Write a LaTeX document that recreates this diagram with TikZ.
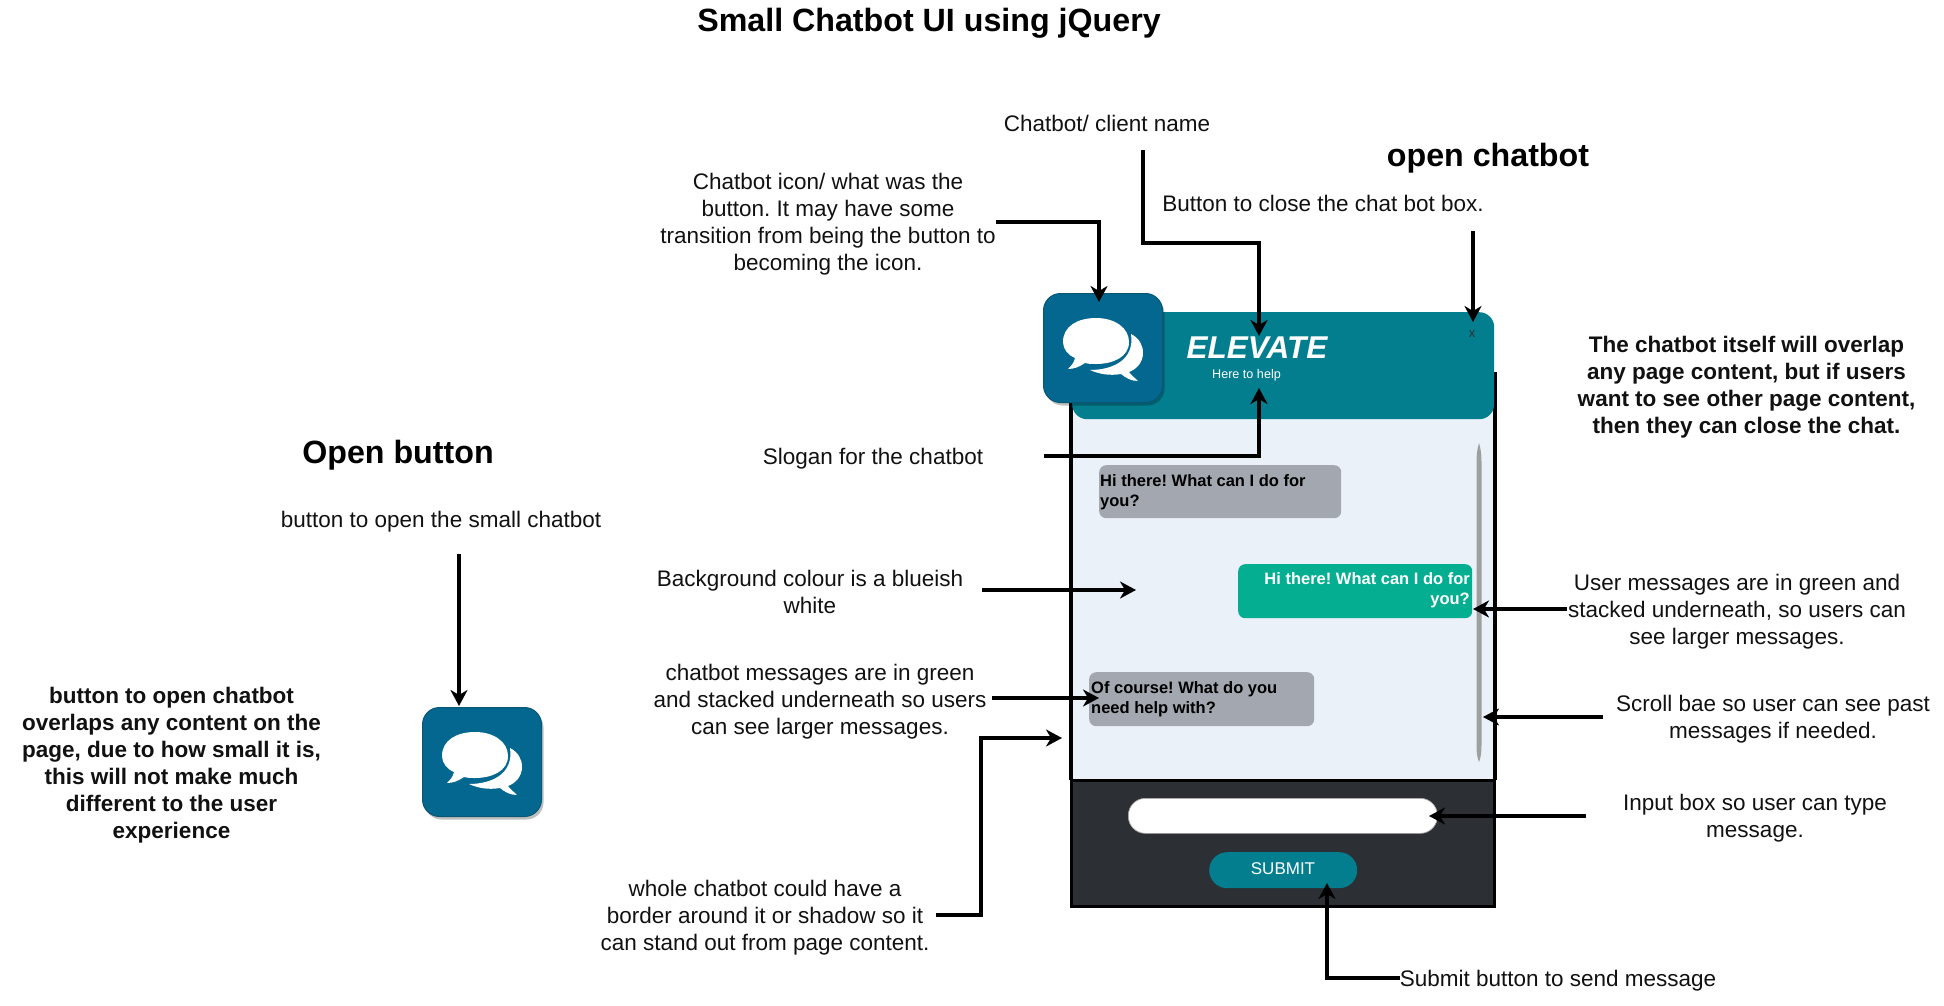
\documentclass[tikz,border=0pt]{standalone}
\usepackage{fontspec}
\setmainfont{Liberation Sans}
\usetikzlibrary{arrows.meta,shadows}
\frenchspacing
\definecolor{tealhdr}{HTML}{027E8F}
\definecolor{iconblue}{HTML}{03678F}
\definecolor{iconedge}{HTML}{0A5675}
\definecolor{bubblegray}{HTML}{A3A7AF}
\definecolor{bubblegreen}{HTML}{04AE91}
\definecolor{footdark}{HTML}{2C2F33}
\definecolor{bodyblue}{HTML}{EAF1F9}
\definecolor{inktext}{HTML}{111111}
\tikzset{
  note/.style={inner sep=0pt,align=center,text=inktext,font=\fontsize{22.5}{27}\selectfont},
  boldnote/.style={note,font=\fontsize{22.5}{27}\selectfont\bfseries},
  heading/.style={inner sep=0pt,text=black,font=\fontsize{32.2}{38}\selectfont\bfseries},
  conn/.style={line width=3.5pt,draw=black,-{Stealth[length=16pt,width=17pt,inset=5pt]}},
  iconbox/.style={anchor=north west,minimum width=119pt,minimum height=109pt,inner sep=0pt,
    rounded corners=17pt,fill=iconblue,draw=iconedge,line width=1pt,
    drop shadow={shadow xshift=2pt,shadow yshift=-3pt,opacity=.25,fill=black}},
  bubble/.style={anchor=north west,inner sep=0pt,rounded corners=7pt},
  bubbletext/.style={inner sep=0pt,font=\fontsize{16.5}{20}\selectfont\bfseries},
}
\newcommand{\chatglyph}[2]{%
  \begin{scope}[shift={(#1,#2)}]
    \fill[white] (20,49) .. controls (20,33) and (35,25) .. (53,25)
      .. controls (72,25) and (86,35) .. (86,49)
      .. controls (86,64) and (70,71) .. (53,71)
      .. controls (48,71) and (45,71) .. (42,70)
      .. controls (36,74) and (31,76) .. (25,76)
      .. controls (28,73) and (31,70) .. (32,65)
      .. controls (25,62) and (20,56) .. (20,49) -- cycle;
    \fill[white] (88,41) .. controls (96,45) and (100,52) .. (100,60)
      .. controls (100,69) and (94,76) .. (86,79)
      .. controls (88,82) and (92,85) .. (95,88)
      .. controls (88,88) and (83,85) .. (78,81)
      .. controls (66,83) and (56,81) .. (47,77)
      .. controls (68,77) and (92,68) .. (88,41) -- cycle;
  \end{scope}}
\begin{document}
\begin{tikzpicture}[x=1pt,y=-1pt]
\useasboundingbox (0,0) rectangle (1944,1006);

% chat window
\fill[bodyblue] (1072,380) rectangle (1494,780);
\coordinate (bl) at (1071,402);
\coordinate (blb) at (1071,780);
\coordinate (br) at (1495,372);
\coordinate (brb) at (1495,780);
\draw[line width=3.5pt] (bl) -- (blb);
\draw[line width=3.5pt] (br) -- (brb);
\node[anchor=north west,minimum width=422pt,minimum height=107pt,inner sep=0pt,rounded corners=15pt,fill=tealhdr] (header) at (1072,312) {};
\node[anchor=north west,minimum width=423pt,minimum height=126pt,inner sep=0pt,fill=footdark,draw=black,line width=3.2pt] (footer) at (1070,778.5) {};
\node[inner sep=0pt,font=\fontsize{31.5}{38}\selectfont\bfseries\itshape,text=white] (elevate) at (1257,348) {ELEVATE};
\node[inner sep=0pt,font=\fontsize{12.6}{15}\selectfont,text=white] (help) at (1246.5,375) {Here to help};
\node[inner sep=0pt,font=\fontsize{13}{15}\selectfont,text=footdark] (close) at (1472,334) {x};
\node[iconbox] (topicon) at (1043,293) {};
\chatglyph{1043}{293}

% scroll bar
\fill[gray!75] (1479,443) .. controls (1477,450) and (1476.5,455) .. (1476.5,462) -- (1476.5,745) .. controls (1476.5,752) and (1477,757) .. (1479,762) .. controls (1481,757) and (1481.5,752) .. (1481.5,745) -- (1481.5,462) .. controls (1481.5,455) and (1481,450) .. (1479,443) -- cycle;
\coordinate (scrollmid) at (1483,717);

% messages
\node[bubble,fill=bubblegray,minimum width=242pt,minimum height=53pt] (msga) at (1099,465) {};
\node[bubbletext,anchor=west,align=left] (msgatext) at (1100,492) {Hi there! What can I do for\\you?};
\node[bubble,fill=bubblegreen,minimum width=234pt,minimum height=54pt] (msgb) at (1238,564) {};
\node[bubbletext,anchor=east,align=right,text=white] (msgbtext) at (1470,590) {Hi there! What can I do for\\you?};
\node[bubble,fill=bubblegray,minimum width=225pt,minimum height=54pt] (msgc) at (1089,672) {};
\node[bubbletext,anchor=west,align=left] (msgctext) at (1091,699) {Of course! What do you\\need help with?};

% footer controls
\node[anchor=north west,minimum width=309pt,minimum height=35pt,inner sep=0pt,rounded corners=17pt,fill=white,draw=gray!70,line width=.7pt] (inputbox) at (1128,798) {};
\node[anchor=north west,minimum width=148pt,minimum height=36pt,inner sep=0pt,rounded corners=18pt,fill=tealhdr] (submit) at (1209,852) {};
\node[inner sep=0pt,font=\fontsize{17}{20}\selectfont,text=white] (submittext) at (1283,869) {SUBMIT};

% open button
\node[iconbox] (openicon) at (422,707) {};
\chatglyph{422}{707}

% texts
\node[heading] (title) at (929,23) {Small Chatbot UI using jQuery};
\node[heading] (openchat) at (1488,158) {open chatbot};
\node[heading] (openbtn) at (398,455) {Open button};
\node[note] (tname) at (1107,123) {Chatbot/ client name};
\node[note] (tclose) at (1323,203) {Button to close the chat bot box.};
\node[note] (ticon) at (828,224.5) {Chatbot icon/ what was the\\button. It may have some\\transition from being the button to\\becoming the icon.};
\node[note] (tslogan) at (873,458.5) {Slogan for the chatbot};
\node[note] (tbg) at (810,591.5) {Background colour is a blueish\\white};
\node[note] (tmsgs) at (820,701.5) {chatbot messages are in green\\and stacked underneath so users\\can see larger messages.};
\node[note] (tborder) at (765,917.5) {whole chatbot could have a\\border around it or shadow so it\\can stand out from page content.};
\node[note] (tsubmit) at (1558,980.5) {Submit button to send message};
\node[boldnote] (toverlap) at (1746.5,387.5) {The chatbot itself will overlap\\any page content, but if users\\want to see other page content,\\then they can close the chat.};
\node[note] (tuser) at (1737,611.5) {User messages are in green and\\stacked underneath, so users can\\see larger messages.};
\node[note] (tscroll) at (1773,719.5) {Scroll bae so user can see past\\messages if needed.};
\node[note] (tinput) at (1755,818.5) {Input box so user can type\\message.};
\node[note] (topen) at (441,521.5) {button to open the small chatbot};
\node[boldnote] (tleft) at (171.5,765.5) {button to open chatbot\\overlaps any content on the\\page, due to how small it is,\\this will not make much\\different to the user\\experience};

% connector ends
\coordinate (a1) at (996,222);  \coordinate (b1) at (1099,302);
\coordinate (a2) at (1143,150); \coordinate (b2) at (1259,336);
\coordinate (a3) at (1473,231); \coordinate (b3) at (1473,322);
\coordinate (a4) at (1044,456); \coordinate (b4) at (1259,388);
\coordinate (a5) at (982,590);  \coordinate (b5) at (1136,590);
\coordinate (a6) at (992,698);  \coordinate (b6) at (1099,698);
\coordinate (a7) at (936,915);  \coordinate (b7) at (1062,738);
\coordinate (a8) at (1567,609); \coordinate (b8) at (1473,609);
\coordinate (a9) at (1603,717);
\coordinate (a10) at (1586,816); \coordinate (b10) at (1429,816);
\coordinate (a11) at (1400,978); \coordinate (b11) at (1327,883);
\coordinate (a12) at (459,554);  \coordinate (b12) at (459,706);

\draw[conn] (a1) -| (b1);
\draw[conn] (a2) |- (1259,243) -- (b2);
\draw[conn] (a3) -- (b3);
\draw[conn] (a4) -| (b4);
\draw[conn] (a5) -- (b5);
\draw[conn] (a6) -- (b6);
\draw[conn] (a7) -- (981,915) |- (b7);
\draw[conn] (a8) -- (b8);
\draw[conn] (a9) -- (scrollmid);
\draw[conn] (a10) -- (b10);
\draw[conn] (a11) -| (b11);
\draw[conn] (a12) -- (b12);
\end{tikzpicture}
\end{document}
